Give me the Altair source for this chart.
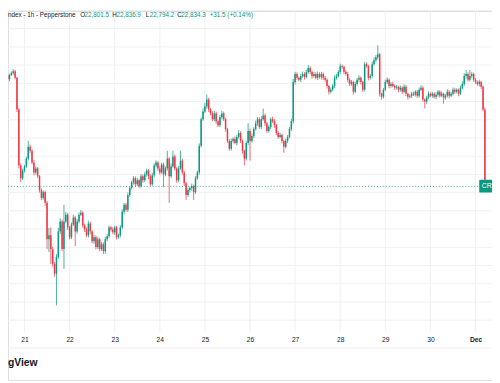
import altair as alt
import pandas as pd

# ---------------- data ----------------
first_open = 23451
hours = list(range(14, 270))  # hours since Nov 20 00:00, hourly candles
closes = [
    23440, 23424, 23446, 23457, 23467, 23430, 23257, 22949, 22879, 22922,
    22944, 22987, 23052, 23030, 22965, 22911, 22933, 22890, 22814, 22771,
    22803, 22744, 22544, 22566, 22490, 22409, 22355, 22447, 22587, 22641,
    22490, 22641, 22679, 22609, 22555, 22625, 22663, 22587, 22641, 22679,
    22690, 22620, 22598, 22566, 22630, 22587, 22533, 22555, 22501, 22544,
    22490, 22517, 22479, 22544, 22560, 22609, 22598, 22582, 22609, 22555,
    22566, 22609, 22695, 22733, 22706, 22787, 22825, 22857, 22879, 22846,
    22868, 22836, 22890, 22868, 22900, 22922, 22890, 22846, 22895, 22949,
    22965, 22933, 22911, 22954, 22900, 22933, 22987, 22890, 22944, 22998,
    22933, 22868, 22933, 22976, 22911, 22852, 22787, 22814, 22825, 22836,
    22803, 22879, 22911, 23057, 23203, 23246, 23273, 23311, 23257, 23235,
    23203, 23235, 23192, 23170, 23214, 23235, 23203, 23149, 23084, 23041,
    23084, 23095, 23073, 23106, 23127, 23084, 23030, 22987, 23073, 23138,
    23084, 23111, 23149, 23181, 23203, 23160, 23203, 23224, 23181, 23138,
    23160, 23203, 23192, 23170, 23127, 23106, 23116, 23084, 23052, 23084,
    23106, 23149, 23192, 23408, 23451, 23430, 23419, 23440, 23451, 23435,
    23462, 23484, 23462, 23440, 23451, 23430, 23451, 23435, 23451, 23430,
    23419, 23386, 23354, 23365, 23386, 23430, 23440, 23462, 23494, 23489,
    23462, 23451, 23419, 23397, 23408, 23354, 23397, 23419, 23430, 23408,
    23365, 23505, 23494, 23430, 23440, 23505, 23527, 23543, 23559, 23343,
    23327, 23365, 23408, 23419, 23386, 23397, 23386, 23376, 23381, 23365,
    23376, 23354, 23381, 23343, 23327, 23332, 23343, 23338, 23354, 23332,
    23365, 23376, 23311, 23300, 23322, 23343, 23332, 23343, 23327, 23338,
    23354, 23332, 23343, 23322, 23332, 23354, 23332, 23343, 23365, 23354,
    23365, 23343, 23376, 23397, 23440, 23451, 23419, 23440, 23451, 23419,
    23408, 23397, 23408, 23381, 23257, 22834,
]
upper_wick = [
    8, 10, 6, 8, 11, 6, 5, 8, 12, 10,
    8, 10, 32, 12, 8, 14, 10, 8, 6, 10,
    10, 8, 10, 40, 43, 12, 10, 16, 20, 18,
    11, 92, 14, 10, 8, 12, 16, 10, 14, 12,
    14, 8, 10, 12, 16, 10, 8, 12, 10, 14,
    8, 12, 10, 14, 12, 10, 8, 12, 10, 8,
    10, 12, 14, 10, 12, 14, 10, 8, 12, 10,
    14, 8, 12, 10, 14, 10, 8, 12, 14, 10,
    12, 8, 14, 10, 12, 10, 43, 8, 16, 32,
    10, 8, 14, 54, 10, 8, 6, 12, 10, 14,
    8, 12, 10, 14, 10, 16, 20, 27, 10, 8,
    12, 14, 10, 8, 12, 14, 10, 8, 6, 10,
    12, 10, 14, 12, 16, 10, 8, 6, 12, 43,
    14, 12, 10, 14, 12, 10, 16, 38, 10, 8,
    12, 10, 14, 12, 8, 10, 12, 8, 6, 12,
    10, 12, 14, 16, 12, 10, 8, 12, 14, 10,
    12, 16, 10, 8, 12, 10, 14, 10, 12, 8,
    10, 8, 6, 12, 10, 14, 12, 10, 14, 10,
    8, 10, 12, 8, 10, 6, 12, 10, 14, 8,
    6, 14, 10, 8, 12, 14, 16, 12, 49, 8,
    6, 10, 12, 14, 8, 10, 12, 8, 10, 6,
    12, 8, 14, 10, 6, 8, 10, 12, 8, 10,
    12, 14, 8, 6, 10, 12, 8, 10, 8, 12,
    10, 8, 12, 6, 10, 14, 8, 10, 12, 10,
    8, 6, 12, 14, 16, 22, 10, 33, 12, 8,
    10, 8, 12, 6, 8, 10,
]
lower_wick = [
    10, 8, 12, 6, 10, 8, 14, 16, 22, 10,
    12, 8, 10, 14, 10, 16, 12, 10, 14, 12,
    10, 16, 54, 70, 81, 16, 16, 173, 11, 14,
    12, 108, 10, 14, 12, 10, 8, 81, 12, 10,
    8, 12, 14, 10, 12, 16, 10, 14, 12, 10,
    12, 10, 16, 14, 10, 8, 12, 10, 14, 12,
    10, 12, 8, 14, 10, 12, 10, 8, 12, 14,
    10, 12, 8, 14, 10, 12, 16, 10, 8, 12,
    10, 14, 12, 8, 70, 10, 12, 146, 10, 8,
    12, 14, 10, 8, 12, 16, 27, 10, 12, 14,
    43, 10, 8, 12, 10, 8, 10, 12, 14, 10,
    10, 12, 14, 10, 8, 12, 10, 14, 12, 11,
    10, 12, 8, 14, 10, 12, 16, 38, 10, 12,
    108, 10, 12, 8, 14, 10, 12, 8, 14, 10,
    8, 12, 10, 14, 12, 10, 8, 14, 33, 10,
    12, 8, 10, 12, 14, 10, 8, 12, 10, 14,
    8, 10, 12, 14, 10, 8, 12, 10, 14, 12,
    10, 14, 16, 10, 8, 12, 10, 8, 12, 10,
    12, 10, 14, 12, 10, 16, 8, 10, 12, 14,
    12, 10, 8, 14, 10, 12, 8, 10, 12, 16,
    16, 10, 8, 12, 14, 10, 8, 12, 10, 14,
    10, 12, 8, 14, 16, 10, 12, 8, 10, 12,
    10, 8, 12, 38, 14, 10, 8, 12, 10, 14,
    12, 10, 8, 33, 12, 10, 14, 8, 10, 12,
    10, 14, 8, 10, 12, 14, 10, 8, 12, 10,
    12, 10, 14, 12, 10, 8,
]
last_price = 22834.3
grid_prices = [22100, 22200, 22300, 22400, 22500, 22600, 22700, 22800, 22900,
               23000, 23100, 23200, 23300, 23400, 23500, 23600, 23700, 23800]
day_ticks = [24, 48, 72, 96, 120, 144, 168, 192, 216, 240, 264]
day_labels = ["21", "22", "23", "24", "25", "26", "27", "28", "29", "30", "Dec"]

header_left = "ndex - 1h - Pepperstone"
header_parts = [("O", "22,801.5"), ("H", "22,836.9"), ("L", "22,794.2"), ("C", "22,834.3")]
header_change = "+31.5 (+0.14%)"
symbol_tag = "CR"
brand_text = "gView"

UP = "#089981"
DOWN = "#f23645"
GRID = "#eef0f3"
TEXT = "#131722"
FONT = "Liberation Sans"
W, H = 492, 375

# ---------------- build table ----------------
opens = [first_open] + closes[:-1]
highs = [max(o, c) + u for o, c, u in zip(opens, closes, upper_wick)]
lows = [min(o, c) - l for o, c, l in zip(opens, closes, lower_wick)]
df = pd.DataFrame({"h": hours, "open": opens, "close": closes, "high": highs, "low": lows})
df["dir"] = ["up" if c >= o else "down" for o, c in zip(opens, closes)]

xs = alt.Scale(domain=[17.84, 270.15], nice=False, zero=False)
ys = alt.Scale(domain=[21771.8, 23796.8], nice=False, zero=False)
cs = alt.Scale(domain=["up", "down"], range=[UP, DOWN])

label_expr = "''"
for v, lab in zip(reversed(day_ticks), reversed(day_labels)):
    label_expr = f"datum.value == {v} ? '{lab}' : ({label_expr})"

x_axis = alt.Axis(
    values=day_ticks, labelExpr=label_expr, title=None, ticks=False, tickSize=0,
    domain=False, grid=False, offset=-46, labelPadding=2, labelFontSize=6.8,
    labelColor=TEXT, labelFont=FONT, labelFlush=False, labelOverlap=False,
    labelFontWeight={"condition": {"test": f"datum.value == {day_ticks[-1]}", "value": "bold"},
                     "value": "normal"},
)

def X(field):
    return alt.X(field, type="quantitative", scale=xs, axis=x_axis)

def Y(field):
    return alt.Y(field, type="quantitative", scale=ys, axis=None)

hgrid = alt.Chart(pd.DataFrame({"p": grid_prices})).mark_rule(color=GRID, strokeWidth=1).encode(
    y=Y("p"), x=alt.value(0), x2=alt.value(W))

vgrid = alt.Chart(pd.DataFrame({"h": day_ticks})).mark_rule(color=GRID, strokeWidth=1).encode(
    x=X("h"), y=alt.value(0), y2=alt.value(326))

price_line = alt.Chart(pd.DataFrame({"p": [last_price]})).mark_rule(
    color=UP, strokeDash=[1, 2], strokeWidth=1, opacity=0.8).encode(
    y=Y("p"), x=alt.value(0), x2=alt.value(W))

wicks = alt.Chart(df).mark_rule(strokeWidth=1, opacity=0.75).encode(
    x=X("h"), y=Y("low"), y2=alt.Y2("high"),
    color=alt.Color("dir:N", scale=cs, legend=None))

bodies = alt.Chart(df).mark_bar(size=1.5).encode(
    x=X("h"), y=Y("open"), y2=alt.Y2("close"),
    color=alt.Color("dir:N", scale=cs, legend=None))

tag_box = alt.Chart(pd.DataFrame({"t": [symbol_tag]})).mark_rect(color=UP, cornerRadius=1).encode(
    x=alt.value(479), x2=alt.value(W), y=alt.value(171.5), y2=alt.value(184.5))
tag_text = alt.Chart(pd.DataFrame({"t": [symbol_tag]})).mark_text(
    color="white", fontSize=7, font=FONT, align="left", baseline="middle").encode(
    x=alt.value(481.5), y=alt.value(178), text="t:N")

def txt(s, x, y, color, size=6.4, weight="normal"):
    return alt.Chart(pd.DataFrame({"t": [s]})).mark_text(
        color=color, fontSize=size, font=FONT, align="left", baseline="middle",
        fontWeight=weight).encode(x=alt.value(x), y=alt.value(y), text="t:N")

HY = 3.6
header_layers = [txt(header_left, 0, HY, TEXT)]
letter_x = [73.5, 106, 140, 172]
for (letter, val), lx in zip(header_parts, letter_x):
    header_layers.append(txt(letter, lx, HY, TEXT))
    header_layers.append(txt(val, lx + 4.2, HY, UP))
header_layers.append(txt(header_change, 205, HY, UP))

separator = alt.Chart(pd.DataFrame({"t": [0]})).mark_rule(color="#f5eaec", strokeWidth=1).encode(
    x=alt.value(0), x2=alt.value(W), y=alt.value(342.5))

brand = txt(brand_text, 0, 358, TEXT, size=10.5, weight="bold")

chart = alt.layer(
    hgrid, vgrid, price_line, wicks, bodies, tag_box, tag_text, separator, brand, *header_layers
).properties(
    width=W, height=H, padding=0, autosize=alt.AutoSizeParams(type="none")
).configure_view(stroke=None).configure(background="white")

chart.save("out.html", embed_options={"renderer": "svg", "actions": False})
